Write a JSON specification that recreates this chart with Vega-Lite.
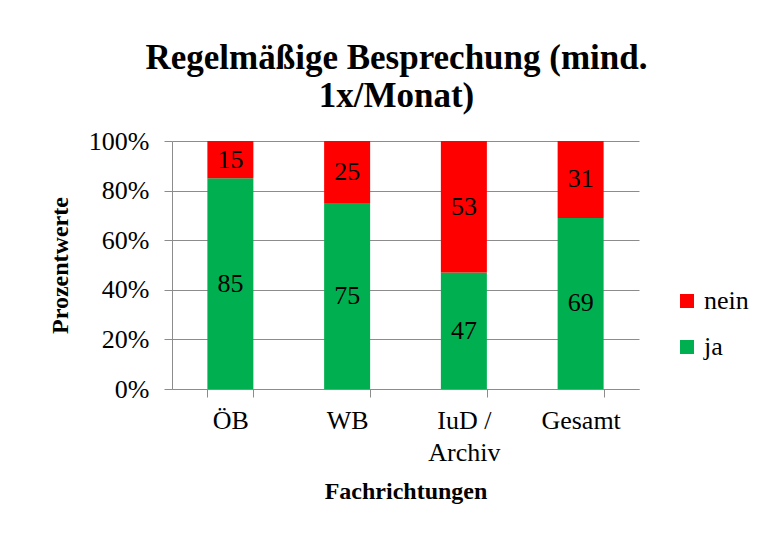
{
  "$schema": "https://vega.github.io/schema/vega-lite/v6.json",
  "width": 467,
  "height": 248,
  "autosize": {"type": "none"},
  "padding": {"left": 172, "top": 141, "right": 137, "bottom": 144},
  "background": "white",
  "title": {
    "text": ["Regelmäßige Besprechung (mind.", "1x/Monat)"],
    "font": "Liberation Serif",
    "fontSize": 35,
    "fontWeight": "bold",
    "color": "black",
    "anchor": "middle",
    "lineHeight": 38,
    "dx": -9,
    "offset": 14
  },
  "data": {
    "values": [
      {"Fachrichtung": "ÖB", "Antwort": "ja", "Wert": 85},
      {"Fachrichtung": "ÖB", "Antwort": "nein", "Wert": 15},
      {"Fachrichtung": "WB", "Antwort": "ja", "Wert": 75},
      {"Fachrichtung": "WB", "Antwort": "nein", "Wert": 25},
      {"Fachrichtung": "IuD / Archiv", "Antwort": "ja", "Wert": 47},
      {"Fachrichtung": "IuD / Archiv", "Antwort": "nein", "Wert": 53},
      {"Fachrichtung": "Gesamt", "Antwort": "ja", "Wert": 69},
      {"Fachrichtung": "Gesamt", "Antwort": "nein", "Wert": 31}
    ]
  },
  "encoding": {
    "x": {
      "field": "Fachrichtung",
      "type": "nominal",
      "sort": ["ÖB", "WB", "IuD / Archiv", "Gesamt"],
      "scale": {"paddingInner": 0.606, "paddingOuter": 0.303},
      "axis": {
        "title": "Fachrichtungen",
        "labelAngle": 0,
        "labelExpr": "datum.label == 'IuD / Archiv' ? ['IuD /', 'Archiv'] : datum.label",
        "labelLineHeight": 32,
        "tickBand": "extent",
        "labelPadding": 10,
        "titlePadding": 14
      }
    },
    "order": {"field": "Antwort", "sort": "ascending"}
  },
  "layer": [
    {
      "mark": {"type": "bar"},
      "encoding": {
        "y": {
          "field": "Wert",
          "type": "quantitative",
          "stack": "normalize",
          "scale": {"domain": [0, 1]},
          "axis": {
            "title": "Prozentwerte",
            "format": ".0%",
            "values": [0, 0.2, 0.4, 0.6, 0.8, 1],
            "grid": true,
            "labelPadding": 15,
            "titlePadding": 16
          }
        },
        "color": {
          "field": "Antwort",
          "type": "nominal",
          "scale": {"domain": ["nein", "ja"], "range": ["#FF0000", "#00B050"]},
          "legend": {
            "title": null,
            "orient": "none",
            "legendX": 502,
            "legendY": 147,
            "symbolType": "square",
            "symbolSize": 196,
            "symbolStrokeWidth": 0,
            "symbolOpacity": 1,
            "labelFont": "Liberation Serif, serif",
            "labelFontSize": 26,
            "labelColor": "black",
            "labelOffset": 4,
            "rowPadding": 20,
            "padding": 0,
            "labelLimit": 200
          }
        }
      }
    },
    {
      "mark": {"type": "text", "font": "Liberation Serif", "fontSize": 26, "color": "black", "baseline": "middle", "align": "center"},
      "encoding": {
        "y": {"field": "Wert", "type": "quantitative", "stack": "normalize", "bandPosition": 0.5},
        "detail": {"field": "Antwort", "type": "nominal"},
        "text": {"field": "Wert", "type": "quantitative"}
      }
    }
  ],
  "config": {
    "font": "Liberation Serif",
    "view": {"stroke": null},
    "axis": {
      "labelFont": "Liberation Serif",
      "labelFontSize": 26,
      "labelColor": "black",
      "titleFont": "Liberation Serif",
      "titleFontSize": 24,
      "titleFontWeight": "bold",
      "titleColor": "black",
      "domainColor": "#8C8C8C",
      "tickColor": "#8C8C8C",
      "gridColor": "#8C8C8C",
      "domainWidth": 1,
      "tickWidth": 1,
      "gridWidth": 1,
      "tickSize": 8
    }
  }
}
